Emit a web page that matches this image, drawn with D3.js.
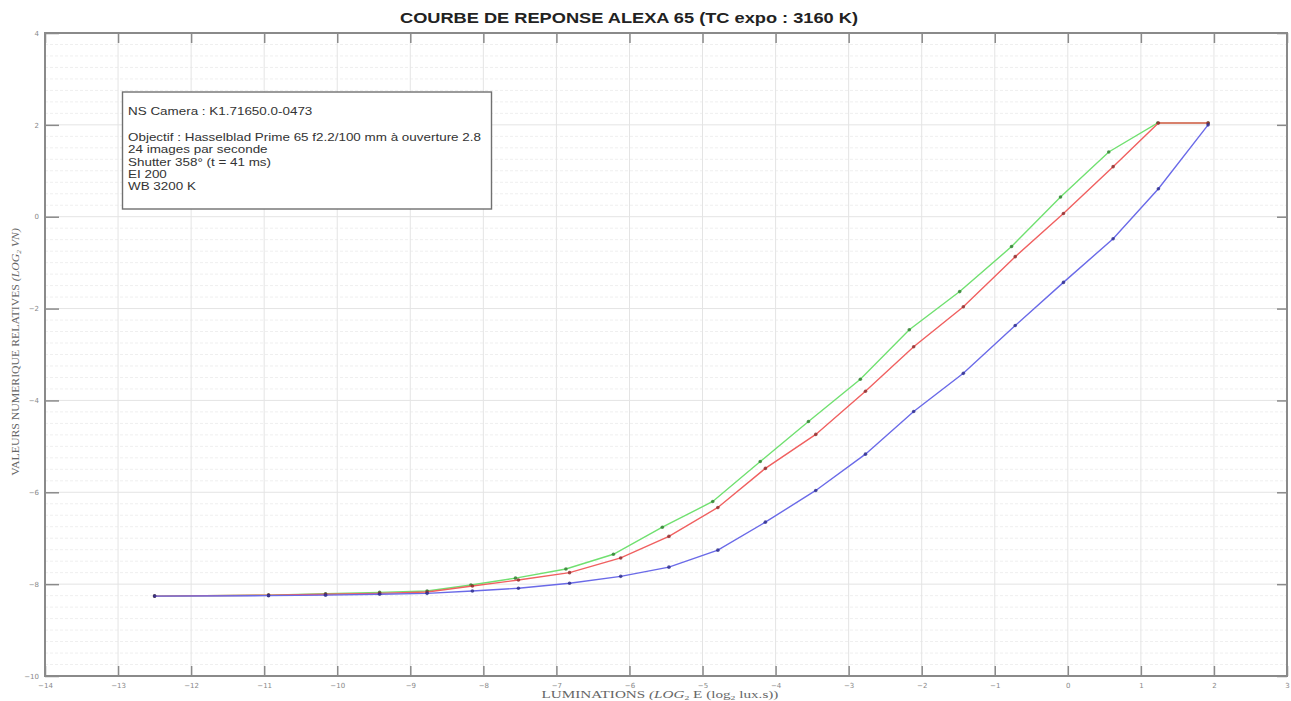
<!DOCTYPE html>
<html><head><meta charset="utf-8">
<script src="https://cdn.jsdelivr.net/npm/d3@7"></script>
<style>body{margin:0;background:#fff}svg{display:block}</style>
</head><body><svg id="c" width="1291" height="701"></svg>
<script>
// ---- data ----
const xTickLabels = [-14,-13,-12,-11,-10,-9,-8,-7,-6,-5,-4,-3,-2,-1,0,1,2,3];
const yTickLabels = [4,2,0,-2,-4,-6,-8,-10];
const lumRB = [-12.50,-10.94,-10.16,-9.42,-8.77,-8.15,-7.52,-6.82,-6.12,-5.46,-4.79,-4.14,-3.45,-2.77,-2.11,-1.43,-0.72,-0.06,0.62,1.24,1.92];
const lumG  = [-12.50,-10.94,-10.16,-9.42,-8.77,-8.17,-7.56,-6.87,-6.22,-5.55,-4.86,-4.21,-3.55,-2.84,-2.17,-1.48,-0.77,-0.10,0.56,1.23,1.92];
const redVals   = [-8.26,-8.24,-8.22,-8.20,-8.17,-8.04,-7.91,-7.75,-7.43,-6.96,-6.33,-5.48,-4.74,-3.80,-2.83,-1.96,-0.87,0.07,1.09,2.04,2.04];
const greenVals = [-8.26,-8.24,-8.21,-8.18,-8.15,-8.02,-7.87,-7.67,-7.35,-6.76,-6.20,-5.33,-4.46,-3.54,-2.46,-1.63,-0.65,0.43,1.41,2.04,2.04];
const blueVals  = [-8.26,-8.25,-8.24,-8.22,-8.20,-8.15,-8.09,-7.98,-7.83,-7.63,-7.26,-6.65,-5.96,-5.17,-4.24,-3.41,-2.37,-1.43,-0.48,0.61,2.00];
const titleText = "COURBE DE REPONSE ALEXA 65 (TC expo : 3160 K)";
const infoLines = ["NS Camera : K1.71650.0-0473", "", "Objectif : Hasselblad Prime 65 f2.2/100 mm à ouverture 2.8", "24 images par seconde", "Shutter 358° (t = 41 ms)", "EI 200", "WB 3200 K"];

// ---- layout ----
const L = 45, R = 1287, T = 33, B = 676;
const svg = d3.select("#c");
const x = d3.scaleLinear().domain([-14, 3]).range([L, R]);
const y = d3.scaleLinear().domain([-10, 4]).range([B, T]);

// minor horizontal grid
const g = svg.append("g");
g.selectAll(".mh").data(d3.range(-10, 4.001, 0.25).filter(v => Math.abs(v % 2) > 1e-6))
  .join("line").attr("x1", L).attr("x2", R)
  .attr("y1", d => y(d)).attr("y2", d => y(d))
  .attr("stroke", "#efefef").attr("stroke-width", 1).attr("stroke-dasharray", "3,2");
// major grid
g.selectAll(".vx").data(xTickLabels).join("line")
  .attr("x1", d => x(d)).attr("x2", d => x(d)).attr("y1", T).attr("y2", B)
  .attr("stroke", "#e4e4e4").attr("stroke-width", 1);
g.selectAll(".hy").data(yTickLabels).join("line")
  .attr("y1", d => y(d)).attr("y2", d => y(d)).attr("x1", L).attr("x2", R)
  .attr("stroke", "#e4e4e4").attr("stroke-width", 1);

// axes (MATLAB-like box with inward ticks)
const axC = "#8a8a8a";
svg.append("g").attr("transform", `translate(0,${B})`)
  .call(d3.axisBottom(x).tickValues(xTickLabels).tickSize(-10).tickPadding(7).tickFormat(d3.format("d")))
  .call(a => { a.select(".domain").remove(); a.selectAll("line").attr("stroke", axC).attr("stroke-width", 1.5);
    a.selectAll("text").attr("fill", "#888").style("font", "7px 'DejaVu Sans'"); });
svg.append("g").attr("transform", `translate(0,${T})`)
  .call(d3.axisTop(x).tickValues(xTickLabels).tickSize(-10).tickFormat(""))
  .call(a => { a.select(".domain").remove(); a.selectAll("line").attr("stroke", axC).attr("stroke-width", 1.5); });
svg.append("g").attr("transform", `translate(${L},0)`)
  .call(d3.axisLeft(y).tickValues(yTickLabels).tickSize(-14).tickPadding(6).tickFormat(d3.format("d")))
  .call(a => { a.select(".domain").remove(); a.selectAll("line").attr("stroke", axC).attr("stroke-width", 1.5);
    a.selectAll("text").attr("fill", "#888").style("font", "7px 'DejaVu Sans'"); });
svg.append("g").attr("transform", `translate(${R},0)`)
  .call(d3.axisRight(y).tickValues(yTickLabels).tickSize(-10).tickFormat(""))
  .call(a => { a.select(".domain").remove(); a.selectAll("line").attr("stroke", axC).attr("stroke-width", 1.5); });
svg.append("rect").attr("x", L).attr("y", T).attr("width", R - L).attr("height", B - T)
  .attr("fill", "none").attr("stroke", axC).attr("stroke-width", 2);

// series
const series = [
  {xs: lumRB, ys: blueVals, c: "#6a6ae8", m: "#2b2b8a"},
  {xs: lumRB, ys: redVals, c: "#f06060", m: "#8a2b2b"},
  {xs: lumG, ys: greenVals, c: "#70e070", m: "#2d7a2d"}
];
const order = [series[2], series[1], series[0]];
const line = d3.line().x(d => x(d[0])).y(d => y(d[1]));
order.forEach(s => {
  const pts = s.xs.map((v, i) => [v, s.ys[i]]);
  svg.append("path").datum(pts).attr("d", line).attr("fill", "none")
    .attr("stroke", s.c).attr("stroke-width", 1.4);
  svg.append("g").selectAll("circle").data(pts).join("circle")
    .attr("cx", d => x(d[0])).attr("cy", d => y(d[1])).attr("r", 1.8)
    .attr("fill", s.m).attr("opacity", 0.8);
});

// title
svg.append("text").attr("x", 629).attr("y", 23).attr("text-anchor", "middle")
  .attr("textLength", 458).attr("lengthAdjust", "spacingAndGlyphs")
  .style("font", "bold 15px 'Liberation Sans', Arial, sans-serif").attr("fill", "#222").text(titleText);

// info box
svg.append("rect").attr("x", 122.5).attr("y", 92).attr("width", 369).attr("height", 117)
  .attr("fill", "#fff").attr("stroke", "#707070").attr("stroke-width", 1.4);
const info = svg.append("text").attr("transform", "translate(128,0) scale(1.28,1)")
  .style("font", "10.5px 'Liberation Sans', Arial, sans-serif").attr("fill", "#333");
let yy = 115;
infoLines.forEach((t, i) => {
  info.append("tspan").attr("x", 0).attr("y", yy).text(t);
  yy += (i === 0) ? 14 : 12.2;
});

// axis labels
const xl = svg.append("text").attr("transform", "translate(660,698) scale(1.38,1)").attr("text-anchor", "middle")
  .style("font", "11px 'Liberation Serif', 'DejaVu Serif', serif").attr("fill", "#666");
xl.append("tspan").text("LUMINATIONS ");
xl.append("tspan").style("font-style", "italic").text("(LOG");
xl.append("tspan").attr("dy", 2).style("font-size", "7px").text("2");
xl.append("tspan").attr("dy", -2).text(" E (log");
xl.append("tspan").attr("dy", 2).style("font-size", "7px").text("2");
xl.append("tspan").attr("dy", -2).text(" lux.s))");

const yl = svg.append("text").attr("transform", "translate(19,352) rotate(-90) scale(1.07,1)").attr("text-anchor", "middle")
  .style("font", "11px 'Liberation Serif', 'DejaVu Serif', serif").attr("fill", "#666");
yl.append("tspan").text("VALEURS NUMERIQUE RELATIVES ");
yl.append("tspan").style("font-style", "italic").text("(LOG");
yl.append("tspan").attr("dy", 2).style("font-size", "7px").style("font-style", "italic").text("2");
yl.append("tspan").attr("dy", -2).style("font-style", "italic").text(" VN)");
</script></body></html>
